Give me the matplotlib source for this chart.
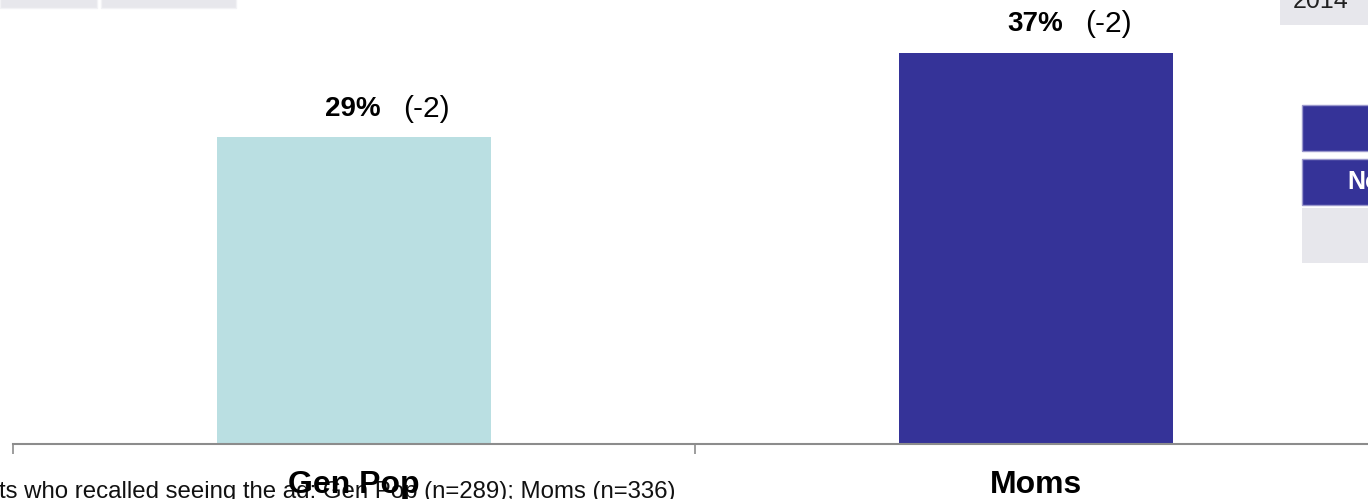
import matplotlib
matplotlib.use("Agg")
import matplotlib.pyplot as plt
from matplotlib.patches import Rectangle

# Data
categories = ["Gen Pop", "Moms"]
values = [29, 37]
changes = ["(-2)", "(-2)"]
footnote = "ts who recalled seeing the ad: Gen Pop (n=289); Moms (n=336)"
year_label = "2014"
legend_text = "No"

bar_colors = ["#BADFE2", "#353398"]
grey_box = "#E7E7EC"
dark_box = "#353398"

W, H = 1368, 499
plt.rcParams["font.family"] = ["Liberation Sans", "DejaVu Sans"]
fig = plt.figure(figsize=(W / 100, H / 100), dpi=100)
fig.patch.set_facecolor("white")


def fx(px):
    return px / W


def fy(py):
    return 1 - py / H


def box(x0, y0, x1, y1, face, edge=None, lw=0):
    fig.patches.append(Rectangle((fx(x0), fy(y1)), fx(x1) - fx(x0), fy(y0) - fy(y1),
                                 transform=fig.transFigure, facecolor=face,
                                 edgecolor=edge if edge else face, linewidth=lw,
                                 zorder=1))


# Axes: spans from the left boundary tick to beyond the right edge
ax_left, ax_right = 13, 1377
ax_bottom = 444
ax = fig.add_axes([fx(ax_left), fy(ax_bottom), fx(ax_right) - fx(ax_left), ax_bottom / H])
ax.patch.set_alpha(0)
ax.set_xlim(-0.5, 1.5)
ax.set_ylim(0, 41.98)

x = list(range(len(categories)))
ax.bar(x, values, width=0.402, color=bar_colors, zorder=2)

for xi, v, ch in zip(x, values, changes):
    ax.annotate(f"{v}%", (xi, v), xytext=(19.5, 20.5), textcoords="offset points",
                ha="right", va="center", fontsize=20, fontweight="bold", color="black")
    ax.annotate(ch, (xi, v), xytext=(35.5, 20.5), textcoords="offset points",
                ha="left", va="center", fontsize=21.5, color="black")

for s in ["left", "right", "top"]:
    ax.spines[s].set_visible(False)
ax.spines["bottom"].set_color("#8C8C8C")
ax.spines["bottom"].set_linewidth(1.5)
ax.set_yticks([])
ax.set_xticks([-0.5, 0.5, 1.5])
ax.set_xticklabels([])
ax.tick_params(axis="x", which="major", length=7.5, width=1.2, color="#8C8C8C", direction="out")
ax.set_xticks(x, minor=True)
ax.set_xticklabels(categories, minor=True, fontsize=23, fontweight="bold")
ax.tick_params(axis="x", which="minor", length=0, pad=19)

# Footnote (partly outside the canvas)
fig.text(fx(-1), fy(498), footnote, ha="left", va="baseline", fontsize=17.3,
         color="#111111", zorder=-1)

# Header boxes at the top-left
box(0, -2, 97, 8, grey_box, "#F2F2F5", 1)
box(101, -2, 236, 8, grey_box, "#F2F2F5", 1)

# Year box at the top-right
box(1280, -2, 1370, 25, grey_box)
fig.text(fx(1321), fy(8), year_label, ha="center", va="baseline", fontsize=18, color="#222222", zorder=3)

# Legend boxes on the right
box(1302, 105, 1370, 151, dark_box, "#9A98CC", 1)
box(1302, 159, 1370, 205, dark_box, "#9A98CC", 1)
box(1302, 208, 1370, 263, grey_box)
fig.text(fx(1347), fy(182), legend_text, ha="left", va="center", fontsize=18,
         fontweight="bold", color="white", zorder=3)

fig.savefig("out.png", dpi=100)
